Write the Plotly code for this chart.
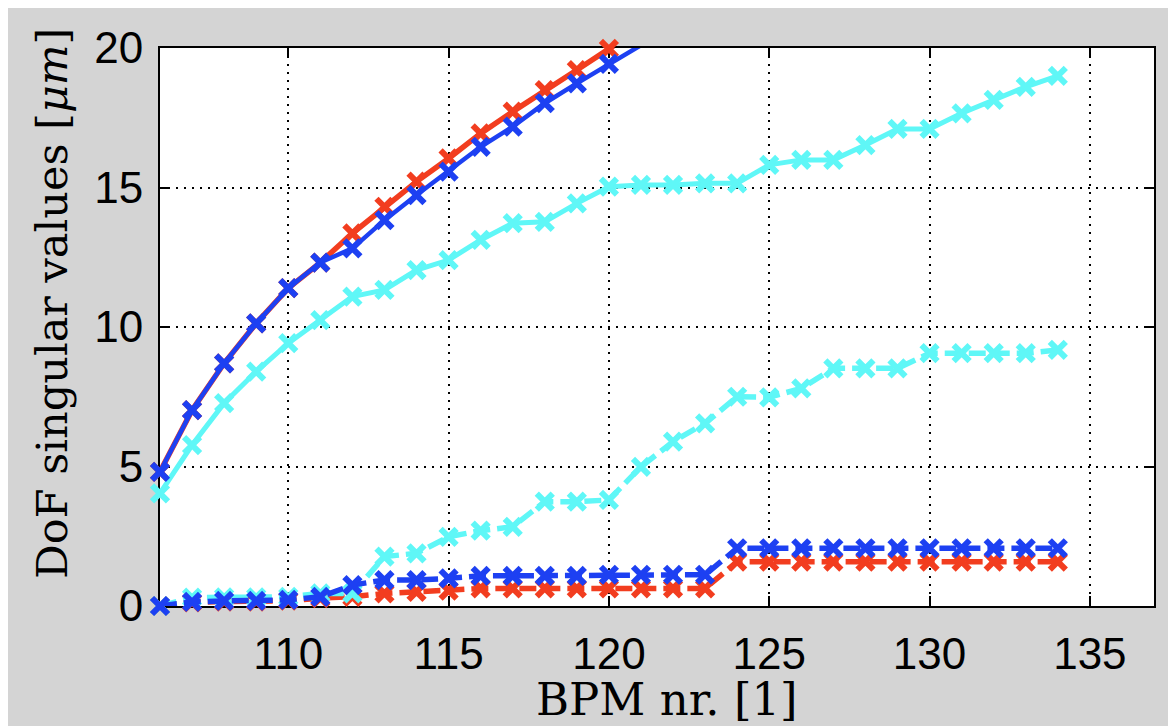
import plotly.graph_objects as go

# ---- data ----
bpm = list(range(106, 135))

red_solid = [4.81, 7.02, 8.70, 10.13, 11.39, 12.31, 13.36, 14.31, 15.21, 16.04,
             16.94, 17.72, 18.49, 19.21, 19.97, 20.7]
blue_solid = [4.81, 7.02, 8.70, 10.13, 11.39, 12.31, 12.82, 13.83, 14.73, 15.57,
              16.46, 17.18, 18.02, 18.73, 19.43, 20.1]
cyan_solid = [4.04, 5.77, 7.27, 8.40, 9.42, 10.25, 11.09, 11.33, 12.04, 12.40,
              13.12, 13.72, 13.77, 14.43, 15.03, 15.09, 15.09, 15.15, 15.15, 15.81,
              15.99, 15.99, 16.52, 17.10, 17.10, 17.66, 18.14, 18.61, 19.00]
cyan_dashed = [0.0, 0.30, 0.31, 0.31, 0.33, 0.45, 0.45, 1.77, 1.89, 2.48,
               2.70, 2.84, 3.74, 3.74, 3.80, 4.99, 5.89, 6.55, 7.50, 7.48,
               7.80, 8.52, 8.52, 8.52, 9.06, 9.06, 9.06, 9.06, 9.18]
blue_dashed = [0.0, 0.15, 0.18, 0.18, 0.22, 0.33, 0.75, 0.93, 0.93, 0.99,
               1.08, 1.08, 1.08, 1.08, 1.12, 1.12, 1.12, 1.12, 2.07, 2.07,
               2.07, 2.07, 2.07, 2.07, 2.07, 2.07, 2.07, 2.07, 2.07]
red_dashed = [0.0, 0.13, 0.16, 0.16, 0.19, 0.28, 0.33, 0.45, 0.51, 0.55,
              0.63, 0.63, 0.63, 0.63, 0.63, 0.63, 0.63, 0.63, 1.59, 1.59,
              1.59, 1.59, 1.59, 1.59, 1.59, 1.59, 1.59, 1.59, 1.59]

x_ticks = [110, 115, 120, 125, 130, 135]
y_ticks = [0, 5, 10, 15, 20]
x_range = [106, 137]
y_range = [0, 20]

RED = "#f23d1f"
BLUE = "#1d40f2"
CYAN = "#5ff7f7"

series = [
    (red_solid, RED, "solid", 5.5),
    (red_dashed, RED, "dashed", 5.5),
    (cyan_solid, CYAN, "solid", 5),
    (cyan_dashed, CYAN, "dashed", 5.5),
    (blue_solid, BLUE, "solid", 4.5),
    (blue_dashed, BLUE, "dashed", 5.5),
]

fig = go.Figure()
for ys, col, style, lw in series:
    xs = bpm[:len(ys)]
    dash = "solid" if style == "solid" else "17px,7px"
    fig.add_trace(go.Scatter(x=xs, y=ys, mode="lines",
                             line=dict(color=col, width=lw, dash=dash),
                             showlegend=False, hoverinfo="skip"))
    mx = [a for a, b in zip(xs, ys) if b <= y_range[1]]
    my = [b for b in ys if b <= y_range[1]]
    fig.add_trace(go.Scatter(x=mx, y=my, mode="markers", cliponaxis=False,
                             marker=dict(symbol="x-thin", size=16, color=col,
                                         line=dict(color=col, width=6)),
                             showlegend=False))

axis_common = dict(
    showline=True, linecolor="black", linewidth=2, mirror="ticks",
    ticks="inside", ticklen=10, tickwidth=2, tickcolor="black",
    showgrid=True, gridcolor="black", gridwidth=1.6, griddash="2px,6px",
    zeroline=False, layer="below traces",
    tickfont=dict(family="Liberation Sans, Arial, sans-serif", size=44, color="black"),
)

fig.update_xaxes(range=x_range, tickvals=x_ticks, ticklabelstandoff=8, **axis_common)
fig.update_yaxes(range=y_range, tickvals=y_ticks, ticklabelstandoff=6, **axis_common)

title_font = dict(family="DejaVu Serif, Liberation Serif, serif", size=43, color="black")
fig.add_annotation(text="BPM nr. [1]", xref="paper", yref="paper",
                   x=0.51, y=-0.168, showarrow=False,
                   font=dict(title_font, size=45),
                   xanchor="center", yanchor="middle")
fig.add_annotation(text="DoF singular values [<i>μm</i>]", xref="paper", yref="paper",
                   x=-0.109, y=0.543, showarrow=False, font=title_font,
                   textangle=-90, xanchor="center", yanchor="middle")

fig.update_layout(
    width=1160, height=718,
    margin=dict(l=152, r=14, t=40, b=120),
    paper_bgcolor="#d4d4d4", plot_bgcolor="white",
)

fig.write_html("out.html",
               config={"displayModeBar": False},
               post_script="document.body.style.margin='8px 0 0 8px';"
                           "document.body.style.background='white';"
                           "document.body.style.overflow='hidden';")
